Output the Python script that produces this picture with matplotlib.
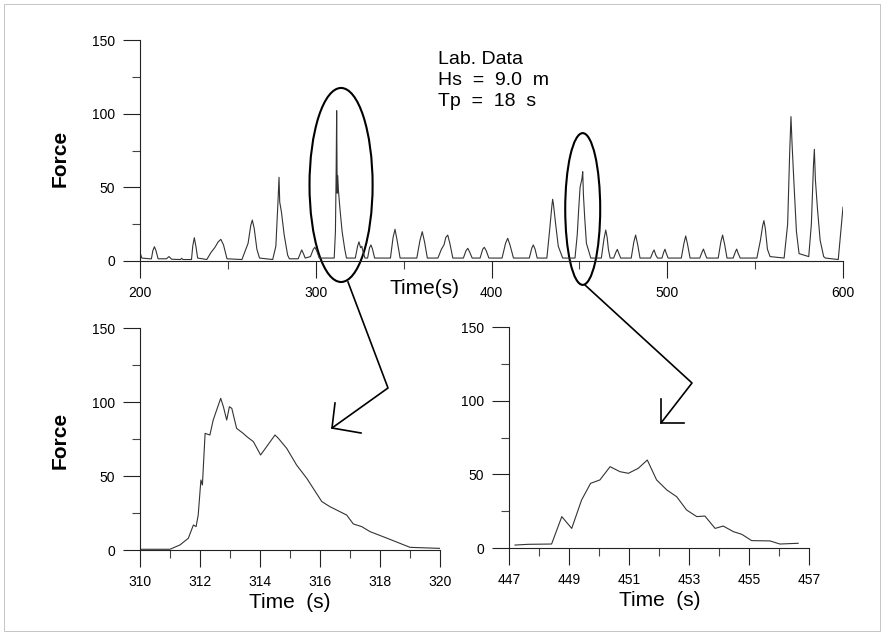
import matplotlib
matplotlib.use("Agg")
import matplotlib.pyplot as plt
from matplotlib.patches import Ellipse, Rectangle
from matplotlib.lines import Line2D
from matplotlib.ticker import MultipleLocator, FixedLocator

plt.rcParams['font.family'] = ['Liberation Sans', 'DejaVu Sans']

W, H = 884, 635

# full record, 200-600 s (one row per wave impact)
top_t = [200, 201, 205.5,
         206.5, 207.3, 208.2, 209.1, 210.3,
         215, 216.5, 218,
         223, 223.7, 224.5,
         229.3, 230, 230.9, 231.8, 232.8,
         238, 240.5, 242.5, 244.5, 246, 247.5, 249.5,
         258, 261.5, 263, 263.9, 265, 266.5, 268, 275.5,
         277.3, 278.5, 279.1, 279.5, 280.5, 282, 284, 285,
         290, 291.2, 292, 293, 294,
         297, 298.6, 299.5, 300.5, 302,
         310.5, 311.2, 311.6, 311.9, 312.2, 312.5, 312.9, 313.8, 315, 316.5, 317.5,
         322.5, 323.8, 324.6, 325.5, 326.2, 327, 328,
         329.5, 330.6, 331.4, 332.3, 333.5,
         342.5, 344, 345.1, 346.3, 348,
         357.5, 359.3, 360.6, 361.9, 363.5,
         369.5, 371.5, 373, 374, 375.1, 376.3, 378,
         384, 385.5, 386.5, 387.6, 389,
         393.5, 395, 395.9, 397, 398.5,
         406, 408, 409.2, 410.5, 412.5,
         421.5, 423, 423.8, 424.8, 426,
         431.5, 433, 434.4, 434.8, 435.3, 436.5, 438, 440.5,
         447.5, 448.8, 449.6, 450.4, 451.5, 451.9, 452.3, 453, 454, 456.5,
         462.5, 464, 465, 465.8, 466.5, 467.5,
         469.5, 470.8, 471.6, 472.5, 473.5,
         479.5, 481, 482, 483.2, 484.5,
         490.5, 491.8, 492.5, 493.5, 494.5,
         497, 498, 498.7, 499.5, 500.5,
         508, 509.5, 510.5, 511.6, 513,
         518.5, 519.8, 520.6, 521.5, 522.5,
         529, 530.5, 531.5, 532.7, 534,
         537.5, 538.7, 539.5, 540.4, 541.5,
         551, 553, 554.3, 555, 555.8, 557, 558.5, 566.5,
         568.5, 569.7, 570.4, 571, 572, 573.5, 575, 580.5,
         582, 583.2, 583.7, 584.3, 585.5, 587, 589, 590,
         597.3, 600]
top_f = [6, 2, 1.5,
         1.5, 7, 9.7, 7, 1.5,
         1.5, 3, 1.2,
         1, 1.8, 1,
         1, 10, 15.8, 10, 2,
         1, 6, 9, 13, 14.7, 11, 1.5,
         1, 12, 24, 27.8, 22, 8, 2, 1,
         10, 40, 56.8, 40, 33, 18, 4, 1.5,
         1.5, 5, 7.5, 5, 2,
         3, 8, 9.3, 7, 2,
         2, 20, 60, 102, 46, 58, 48, 35, 20, 8, 2,
         2, 10, 13, 9, 10, 6, 2,
         2, 9, 10.9, 8, 2,
         2, 16, 21.5, 14, 2,
         2, 14, 19.9, 13, 2,
         2, 8, 11, 16, 17.6, 12, 2,
         2, 7, 8.6, 6, 2,
         2, 8, 9.3, 7, 2,
         2, 12, 15.4, 11, 2,
         2, 9, 10.9, 8, 2,
         2, 20, 38, 41.9, 38, 25, 10, 2,
         2, 18, 35, 50, 56, 60.6, 45, 30, 12, 2,
         2, 15, 21, 16, 8, 2,
         2, 6, 7.9, 5, 2,
         2, 13, 17.6, 11, 2,
         2, 6, 7.5, 4, 2,
         2, 6, 8, 5, 2,
         2, 12, 17, 11, 2,
         2, 6, 8.1, 5, 2,
         2, 13, 17.6, 11, 2,
         2, 6, 8.1, 5, 2,
         2, 14, 24, 27.4, 22, 8, 3, 2,
         25, 75, 98, 80, 55, 20, 5, 3,
         25, 65, 75.8, 55, 35, 14, 3, 2,
         1, 36.5]

# zoom on first event
ev1_t = [310, 311, 311.33, 311.61, 311.78, 311.87, 311.94, 312.03, 312.08, 312.17, 312.33,
         312.44, 312.69, 312.78, 312.89, 312.98, 313.06, 313.22, 313.44, 313.56, 313.78,
         314.02, 314.22, 314.5, 314.61, 314.89, 315.22, 315.56, 316.06, 316.33, 316.89,
         317.11, 317.39, 317.67, 318.33, 319.0, 320]
ev1_f = [0.5, 0.5, 3.4, 7.9, 16.9, 15.8, 23.6, 47.3, 43.9, 78.8, 77.7,
         87.8, 102.5, 96.8, 87.8, 96.8, 95.7, 82.2, 78.8, 76.6, 73.2,
         64.2, 69.8, 77.7, 75.5, 68.7, 57.4, 48.4, 32.7, 29.3, 23.6,
         17.6, 15.8, 12.4, 7.2, 1.8, 1.1]

# zoom on second event
ev2_t = [447.2, 447.64, 448.42, 448.76, 449.09, 449.42, 449.72, 450.03, 450.37, 450.7,
         450.98, 451.31, 451.61, 451.92, 452.26, 452.59, 452.92, 453.26, 453.53, 453.87,
         454.14, 454.48, 454.76, 455.09, 455.7, 456.03, 456.64]
ev2_f = [2, 2.5, 2.7, 21.3, 13.3, 32.6, 43.9, 46.2, 55.2, 51.8,
         50.7, 54.1, 59.7, 46.2, 39.4, 34.8, 25.8, 21.3, 21.7, 13.3,
         14.9, 11.1, 9.3, 5, 4.8, 2.7, 3.2]

ev2_ticks = [447, 449, 451, 453, 455, 457]
ev2_minor = [448, 450, 452, 454, 456]

info_text = "Lab. Data\nHs  =  9.0  m\nTp  =  18  s"

# circled events in the top panel: (centre t, centre F, width, height)
circles = [(314.4, 51.6, 35.9, 131.7), (451.9, 35.3, 19.9, 103)]

# arrows from the circles to the zooms, in picture pixels
arrows = [
    ([348, 388, 332], [282, 388, 428], [335, 332, 361], [403, 428, 433]),
    ([585, 692, 661], [285, 383, 423], [661, 661, 684], [399, 423, 423]),
]


def fx(px):
    return px / W


def fy(py):
    return 1 - py / H


def style_axes(ax, xmaj, xmin):
    for s in ('top', 'right'):
        ax.spines[s].set_visible(False)
    for s in ('left', 'bottom'):
        ax.spines[s].set_linewidth(0.8)
        ax.spines[s].set_color('#222222')
    ax.set_ylim(0, 150)
    ax.yaxis.set_major_locator(MultipleLocator(50))
    ax.yaxis.set_minor_locator(MultipleLocator(25))
    ax.xaxis.set_major_locator(xmaj)
    ax.xaxis.set_minor_locator(xmin)
    ax.tick_params(which='major', direction='out', length=12, width=0.8,
                   labelsize=10, pad=6, color='#222222')
    ax.tick_params(which='minor', direction='out', length=6, width=0.8,
                   color='#444444')
    ax.patch.set_alpha(0)


def main():
    fig = plt.figure(figsize=(W / 100, H / 100), dpi=100)

    ax_top = fig.add_axes([fx(140), fy(261), (843 - 140) / W, (261 - 40) / H])
    ax_l = fig.add_axes([fx(140), fy(550), 300 / W, 222 / H])
    ax_r = fig.add_axes([fx(509), fy(548), 300 / W, 221 / H])

    ax_top.plot(top_t, top_f, color='#333333', lw=0.8)
    ax_top.set_xlim(200, 600)
    style_axes(ax_top, MultipleLocator(100), MultipleLocator(50))

    ax_l.plot(ev1_t, ev1_f, color='#333333', lw=0.8)
    ax_l.set_xlim(310, 320)
    style_axes(ax_l, MultipleLocator(2), MultipleLocator(1))

    ax_r.plot(ev2_t, ev2_f, color='#333333', lw=0.8)
    ax_r.set_xlim(447, 457)
    style_axes(ax_r, FixedLocator(ev2_ticks), FixedLocator(ev2_minor))

    for t, f, w, h in circles:
        ax_top.add_patch(Ellipse((t, f), w, h, fill=False, edgecolor='black',
                                 lw=1.5, clip_on=False))

    for xs, ys, hx, hy in arrows:
        fig.add_artist(Line2D([fx(x) for x in xs], [fy(y) for y in ys],
                              color='black', lw=1.2, transform=fig.transFigure))
        fig.add_artist(Line2D([fx(x) for x in hx], [fy(y) for y in hy],
                              color='black', lw=1.2, transform=fig.transFigure))

    fig.text(fx(438), fy(51), info_text, ha='left', va='top', fontsize=14,
             linespacing=1.3)

    fig.text(fx(424), fy(289), "Time(s)", ha='center', va='center', fontsize=15)
    fig.text(fx(290), fy(602), "Time  (s)", ha='center', va='center', fontsize=15)
    fig.text(fx(660), fy(600), "Time  (s)", ha='center', va='center', fontsize=15)

    fig.text(fx(60), fy(158), "Force", rotation=90, ha='center', va='center',
             fontsize=15, fontweight='bold')
    fig.text(fx(60), fy(440), "Force", rotation=90, ha='center', va='center',
             fontsize=15, fontweight='bold')

    fig.add_artist(Rectangle((0.004, 0.007), 0.992, 0.986, fill=False,
                             edgecolor='#bbbbbb', lw=0.6, transform=fig.transFigure))

    fig.savefig("out.png", dpi=100)


if __name__ == '__main__':
    main()
